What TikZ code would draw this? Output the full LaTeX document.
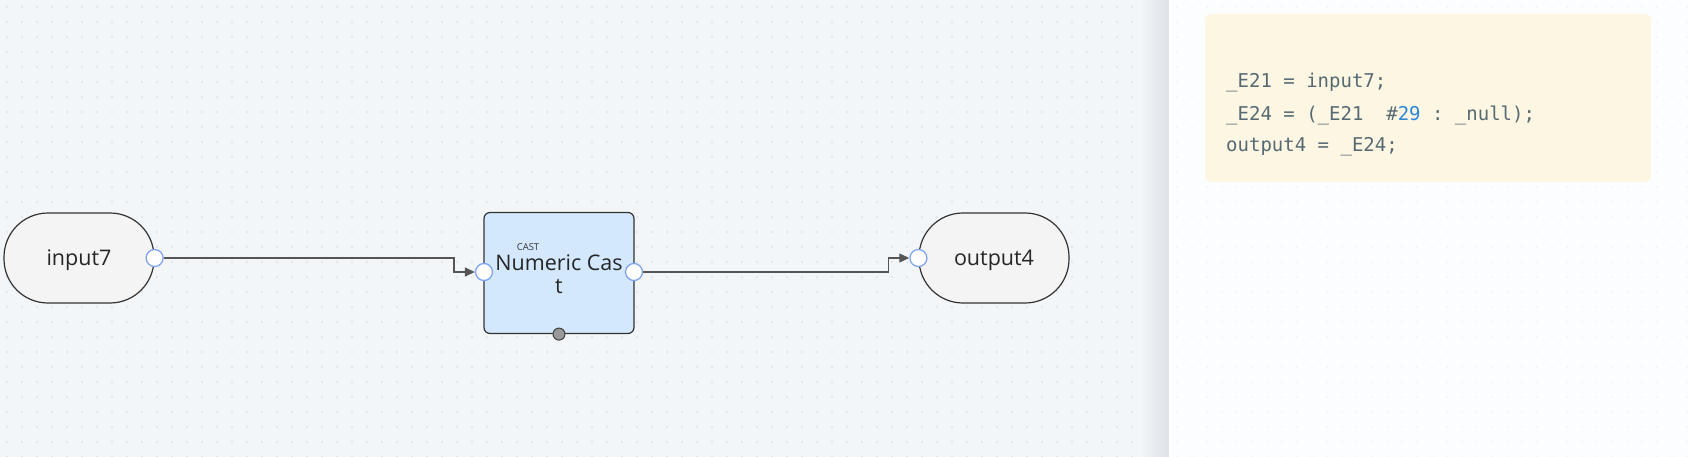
\documentclass[tikz,border=0pt]{standalone}
\usepackage{fontspec}
\setmainfont{Open Sans}
\setmonofont{DejaVu Sans Mono}
\usetikzlibrary{positioning,arrows.meta}

\definecolor{canvas}{HTML}{F3F6F9}
\definecolor{griddot}{HTML}{D2D9E0}
\definecolor{panel}{HTML}{FCFDFE}
\definecolor{paneldot}{HTML}{EDF0F3}
\definecolor{shadowgray}{HTML}{DDE2E7}
\definecolor{termfill}{HTML}{F4F4F4}
\definecolor{castfill}{HTML}{D3E8FD}
\definecolor{portblue}{HTML}{7FA5F2}
\definecolor{wiregray}{HTML}{555555}
\definecolor{codebg}{HTML}{FDF6E3}
\definecolor{codegray}{HTML}{566A73}
\definecolor{numblue}{HTML}{2B88D8}

\tikzset{
  terminal/.style={draw=black!80, fill=termfill, line width=1.2pt,
    minimum width=150pt, minimum height=90pt, rounded corners=44pt,
    text height=20pt, font=\fontsize{21.5}{26}\selectfont, text=black!85},
  castbox/.style={draw=black!80, fill=castfill, line width=1.2pt,
    minimum width=150pt, minimum height=121pt, rounded corners=6pt},
  port/.style={circle, draw=portblue, fill=white, line width=1.3pt,
    minimum size=17pt, inner sep=0pt},
  busport/.style={circle, draw=black!75, fill=black!40, line width=1pt,
    minimum size=12pt, inner sep=0pt},
  wire/.style={draw=wiregray, line width=1.3pt},
  codeline/.style={anchor=west, inner sep=0pt, text=codegray,
    font=\ttfamily\fontsize{19}{22}\selectfont}
}

\begin{document}
\begin{tikzpicture}[x=1pt, y=-1pt]
		\useasboundingbox (0,0) rectangle (1688,457);
		% canvas with dot grid
		\fill [canvas] (0,0) rectangle (1169,457);
		\foreach \x in {7,22,...,1162}
		\foreach \y in {7,22,...,457}
		\fill [griddot] (\x,\y) circle (0.9);
		\shade [left color=canvas, right color=shadowgray] (1140,0) rectangle (1169,457);
		
		% side panel
		\fill [panel] (1169,0) rectangle (1688,457);
		\foreach \x in {1177,1192,...,1688}
		\foreach \y in {7,22,...,457}
		\fill [paneldot] (\x,\y) circle (0.8);
		
		% nodes
		\node [terminal] (in7) at (79,258) {input7};
		\node [castbox] (cast) at (559,273) {};
		\node [font=\fontsize{21.5}{23.5}\selectfont, align=center, text=black!85] (castlabel) at (559,274) {Numeric Cas\\t};
		\node [font=\fontsize{9.5}{11}\selectfont, text=black!80] (casttag) at (528,247) {CAST};
		\node [terminal] (out4) at (994,258) {output4};
		
		% ports
		\node [port] (in7port) at (in7.east) {};
		\node [port] (castin) at (484,272) {};
		\node [port] (castout) at (634,272) {};
		\node [busport] (castbus) at (cast.south) {};
		\node [port] (out4port) at (out4.west) {};
		
		% connectors
		\draw [wire, -{Triangle[length=10pt,width=9pt]}] (in7port.east) -| ([xshift=-30pt]castin.center) -- (castin.west);
		\draw [wire, -{Triangle[length=10pt,width=9pt]}] (castout.east) -| ([xshift=-30pt]out4port.center) -- (out4port.west);
		
		% generated code
		\fill [codebg, rounded corners=5pt] (1205,14) rectangle (1651,182);
		\node [codeline] (code1) at (1226,83) {\_E21 = input7;};
		\node [codeline] (code2) at (1226,115) {\_E24 = (\_E21\ \ \#\textcolor{numblue}{29} : \_null);};
		\node [codeline] (code3) at (1226,147) {output4 = \_E24;};
\end{tikzpicture}
\end{document}
